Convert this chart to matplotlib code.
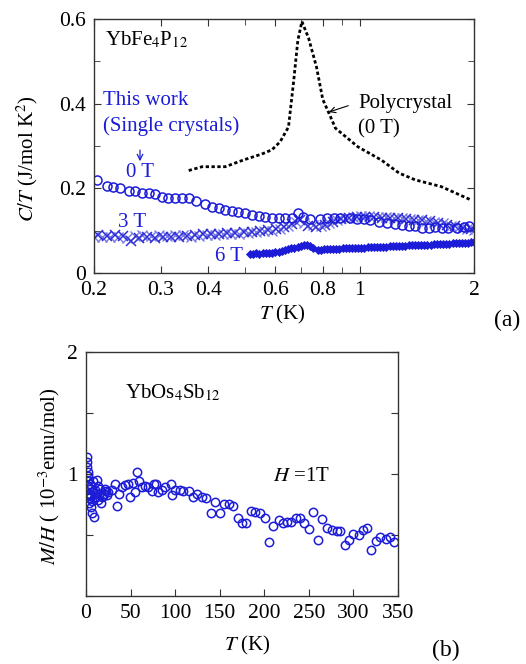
import numpy as np
import matplotlib
matplotlib.use('Agg')
import matplotlib.pyplot as plt
from matplotlib.ticker import FixedLocator, NullFormatter

plt.rcParams['font.family'] = ['Liberation Serif', 'DejaVu Serif']
plt.rcParams['mathtext.fontset'] = 'stix'

###################################################################################################
# (a) YbFe4P12 specific heat C/T vs T
poly_T = [0.355, 0.385, 0.443, 0.495, 0.553, 0.588, 0.618, 0.65, 0.67, 0.688, 0.705,
          0.734, 0.77, 0.80, 0.83, 0.864, 0.99, 1.14, 1.27, 1.40, 1.64, 1.97]
poly_C = [0.242, 0.251, 0.251, 0.267, 0.281, 0.291, 0.310, 0.345, 0.45, 0.55, 0.594,
          0.555, 0.487, 0.41, 0.378, 0.342, 0.298, 0.267, 0.236, 0.22, 0.204, 0.172]

t0_T = [0.204, 0.216, 0.225, 0.234, 0.247, 0.257, 0.267, 0.279, 0.290, 0.302, 0.314,
        0.327, 0.341, 0.355, 0.370, 0.393, 0.409, 0.426, 0.443, 0.461, 0.480, 0.500,
        0.521, 0.542, 0.565, 0.588, 0.612, 0.637, 0.664, 0.687, 0.710, 0.741, 0.787,
        0.821, 0.855, 0.889, 0.945, 0.984, 1.025, 1.067, 1.122, 1.18, 1.24, 1.29,
        1.35, 1.40, 1.46, 1.52, 1.58, 1.65, 1.71, 1.80, 1.88, 1.94]
t0_C = [0.220, 0.206, 0.204, 0.201, 0.194, 0.194, 0.190, 0.188, 0.187, 0.180, 0.178,
        0.176, 0.176, 0.178, 0.170, 0.163, 0.157, 0.153, 0.149, 0.146, 0.145, 0.142,
        0.137, 0.135, 0.133, 0.131, 0.129, 0.129, 0.131, 0.141, 0.133, 0.127, 0.127,
        0.129, 0.129, 0.131, 0.129, 0.127, 0.127, 0.125, 0.121, 0.117, 0.115, 0.113,
        0.112, 0.112, 0.107, 0.107, 0.109, 0.107, 0.107, 0.107, 0.109, 0.111]

t3_T = [0.200, 0.205, 0.210, 0.216, 0.221, 0.227, 0.232, 0.238, 0.244, 0.250, 0.256,
        0.262, 0.268, 0.275, 0.282, 0.289, 0.296, 0.303, 0.311, 0.318, 0.326, 0.334,
        0.343, 0.351, 0.360, 0.369, 0.378, 0.387, 0.397, 0.407, 0.417, 0.427, 0.438,
        0.449, 0.460, 0.471, 0.483, 0.495, 0.507, 0.520, 0.533, 0.546, 0.559, 0.573,
        0.588, 0.602, 0.617, 0.633, 0.648, 0.665, 0.681, 0.698, 0.716, 0.733, 0.752,
        0.770, 0.790, 0.809, 0.830, 0.850, 0.872, 0.893, 0.916, 0.938, 0.962, 0.986,
        1.010, 1.035, 1.061, 1.088, 1.115, 1.143, 1.171, 1.200, 1.230, 1.261, 1.292,
        1.325, 1.358, 1.391, 1.426, 1.462, 1.498, 1.536, 1.574, 1.613, 1.653, 1.695,
        1.737, 1.780, 1.825, 1.870, 1.917, 1.965, 2.000]
t3_C = [0.086, 0.090, 0.084, 0.088, 0.085, 0.089, 0.084, 0.087, 0.082, 0.076, 0.088,
        0.083, 0.090, 0.085, 0.088, 0.083, 0.090, 0.086, 0.088, 0.084, 0.089, 0.086,
        0.090, 0.087, 0.085, 0.089, 0.088, 0.091, 0.089, 0.092, 0.090, 0.093, 0.091,
        0.094, 0.092, 0.095, 0.093, 0.096, 0.094, 0.097, 0.096, 0.099, 0.098, 0.101,
        0.100, 0.104, 0.103, 0.108, 0.112, 0.116, 0.121, 0.126, 0.118, 0.110, 0.113,
        0.108, 0.110, 0.114, 0.118, 0.121, 0.124, 0.127, 0.129, 0.131, 0.133, 0.133,
        0.134, 0.133, 0.134, 0.132, 0.133, 0.131, 0.132, 0.130, 0.131, 0.129, 0.130,
        0.128, 0.128, 0.126, 0.126, 0.124, 0.123, 0.122, 0.120, 0.118, 0.117, 0.114,
        0.112, 0.110, 0.108, 0.106, 0.104, 0.103, 0.101]

t6_T = [0.515, 0.525, 0.535, 0.545, 0.556, 0.567, 0.578, 0.589, 0.600, 0.612, 0.624,
        0.636, 0.648, 0.661, 0.674, 0.687, 0.700, 0.714, 0.728, 0.742, 0.756,
        0.776, 0.790, 0.805, 0.820, 0.836, 0.852, 0.868, 0.885, 0.902, 0.919, 0.937,
        0.955, 0.973, 0.992, 1.011, 1.030, 1.050, 1.070, 1.091, 1.112, 1.133, 1.155,
        1.177, 1.200, 1.223, 1.246, 1.270, 1.295, 1.320, 1.345, 1.371, 1.397, 1.424,
        1.451, 1.479, 1.508, 1.537, 1.566, 1.596, 1.627, 1.658, 1.690, 1.723, 1.756,
        1.790, 1.824, 1.859, 1.895, 1.931, 1.968, 2.000]
t6_C = [0.045, 0.044, 0.046, 0.045, 0.047, 0.046, 0.048, 0.048, 0.050, 0.050, 0.052,
        0.054, 0.056, 0.058, 0.060, 0.062, 0.064, 0.066, 0.065, 0.063, 0.060,
        0.055, 0.055, 0.056, 0.056, 0.057, 0.057, 0.056, 0.057, 0.058, 0.058, 0.059,
        0.059, 0.059, 0.060, 0.060, 0.060, 0.061, 0.061, 0.061, 0.061, 0.062, 0.062,
        0.062, 0.063, 0.063, 0.063, 0.064, 0.064, 0.064, 0.065, 0.065, 0.066, 0.066,
        0.066, 0.067, 0.067, 0.067, 0.068, 0.068, 0.068, 0.069, 0.069, 0.069, 0.070,
        0.070, 0.070, 0.071, 0.071, 0.071, 0.072, 0.072]

a_xticks = [0.2, 0.3, 0.4, 0.6, 0.8, 1, 2]
a_xticklabels = ['0.2', '0.3', '0.4', '0.6', '0.8', '1', '2']
a_xminor = [0.5, 0.7, 0.9]
a_yticks = [0, 0.2, 0.4, 0.6]
a_yticklabels = ['0', '0.2', '0.4', '0.6']

# (b) YbOs4Sb12 M/H vs T
mh_T = [1.5, 1.5, 1.6, 1.7, 1.8, 2.0, 2.6, 2.8, 3.0, 3.5, 3.7, 4.0, 4.5, 5.0, 5.2, 6.0,
        6.4, 7.0, 8.0, 8.0, 9.0, 9.4, 10, 11, 12, 12, 13, 14, 15, 16, 17, 18, 19, 20,
        21, 22, 24, 25, 29, 32, 35, 37, 40, 44, 47.5, 49.4, 53, 55, 57.6, 60, 62.5,
        66, 70, 73.7, 76, 79, 81, 85, 89, 95, 97, 100, 105, 109, 115, 120, 124, 130,
        135, 140, 145, 150, 155, 160, 165, 170, 175, 180, 185, 190, 195, 201, 205, 210,
        216, 221, 225, 230, 235, 240, 245, 250, 255, 260, 265, 270, 276, 281, 285, 290,
        295, 300, 306, 311, 315, 320, 325, 330, 336, 341, 346]
mh_M = [1.14, 1.10, 1.06, 1.02, 0.98, 0.94, 0.90, 0.84, 0.80, 0.88, 0.76, 0.92, 0.82,
        0.84, 0.73, 0.90, 0.68, 0.78, 0.94, 0.86, 0.80, 0.65, 0.87, 0.81, 0.95, 0.84,
        0.79, 0.90, 0.84, 0.88, 0.76, 0.81, 0.82, 0.84, 0.88, 0.86, 0.83, 0.85, 0.87,
        0.92, 0.74, 0.84, 0.895, 0.91, 0.92, 0.81, 0.93, 0.85, 1.02, 0.94, 0.895, 0.90,
        0.895, 0.86, 0.92, 0.92, 0.855, 0.87, 0.895, 0.92, 0.83, 0.87, 0.87, 0.86, 0.86,
        0.81, 0.84, 0.81, 0.80, 0.68, 0.77, 0.68, 0.75, 0.75, 0.74, 0.64, 0.595, 0.60,
        0.70, 0.69, 0.68, 0.64, 0.445, 0.57, 0.62, 0.595, 0.61, 0.61, 0.64, 0.64, 0.60,
        0.55, 0.69, 0.46, 0.63, 0.56, 0.54, 0.53, 0.535, 0.42, 0.46, 0.51, 0.50, 0.54,
        0.555, 0.38, 0.45, 0.485, 0.47, 0.48, 0.44]

b_xticks = [0, 50, 100, 150, 200, 250, 300, 350]
b_yticks = [0, 0.5, 1, 1.5, 2]
b_yticklabels = ['', '', '1', '', '2']

###################################################################################################
blue = '#1c1cd8'
fs_tick = 15.5
fs_txt = 15

fig = plt.figure(figsize=(5.26, 6.64), dpi=100)

ax = fig.add_axes([0.1787, 0.5889, 0.7224, 0.3825])
ax.set_xscale('log')
ax.plot(poly_T, poly_C, color='black', linestyle=(0, (1.2, 0.9)), linewidth=2.0)
ax.plot(t3_T[::2], t3_C[::2], linestyle='none', marker='x', markersize=6.5,
        markeredgewidth=1.0, color='#7a7ae4')
ax.plot(t3_T[1::2], t3_C[1::2], linestyle='none', marker='x', markersize=6.5,
        markeredgewidth=1.1, color='#3030d8')
ax.plot(t0_T, t0_C, linestyle='none', marker='o', markersize=6.5,
        markerfacecolor='none', markeredgecolor=blue, markeredgewidth=1.1)
ax.plot(t6_T, t6_C, linestyle='none', marker='D', markersize=4,
        color=blue, markeredgewidth=0.6)

ax.set_xlim(0.2, 2.0)
ax.set_ylim(0, 0.6)
ax.xaxis.set_major_locator(FixedLocator(a_xticks))
ax.set_xticklabels(a_xticklabels)
ax.xaxis.set_minor_locator(FixedLocator(a_xminor))
ax.xaxis.set_minor_formatter(NullFormatter())
ax.set_yticks(a_yticks)
ax.set_yticklabels(a_yticklabels)
ax.yaxis.set_minor_locator(FixedLocator([0.1, 0.3, 0.5]))
ax.tick_params(which='both', direction='in', top=True, right=True, labelsize=fs_tick,
               color='#333333', pad=6)
ax.tick_params(which='major', length=5)
ax.tick_params(which='minor', length=4)
for s in ax.spines.values():
    s.set_color('#333333')
    s.set_linewidth(1.0)

ax.set_ylabel(r'$C/T$ (J/mol K$^{2}$)', fontsize=fs_txt)
ax.yaxis.set_label_coords(-0.142, 0.45)
ax.set_xlabel(r'$T$ (K)', fontsize=fs_txt)
ax.xaxis.set_label_coords(0.495, -0.12)

ax.text(0.029, 0.917, r'YbFe$_4$P$_{12}$', transform=ax.transAxes, fontsize=fs_txt,
        va='center', ha='left')
ax.text(0.024, 0.681, 'This work', transform=ax.transAxes, fontsize=fs_txt,
        va='center', ha='left', color=blue)
ax.text(0.024, 0.579, '(Single crystals)', transform=ax.transAxes, fontsize=fs_txt,
        va='center', ha='left', color=blue)
ax.annotate('', xy=(0.121, 0.429), xytext=(0.121, 0.495), xycoords='axes fraction',
            arrowprops=dict(arrowstyle='->', color=blue, lw=0.9))
ax.text(0.122, 0.394, '0 T', transform=ax.transAxes, fontsize=fs_txt,
        va='center', ha='center', color=blue)
ax.text(0.101, 0.197, '3 T', transform=ax.transAxes, fontsize=fs_txt,
        va='center', ha='center', color=blue)
ax.text(0.355, 0.063, '6 T', transform=ax.transAxes, fontsize=fs_txt,
        va='center', ha='center', color=blue)
ax.text(0.695, 0.669, 'Polycrystal', transform=ax.transAxes, fontsize=fs_txt,
        va='center', ha='left')
ax.text(0.695, 0.567, '(0 T)', transform=ax.transAxes, fontsize=fs_txt,
        va='center', ha='left')
ax.annotate('', xy=(0.611, 0.630), xytext=(0.676, 0.662), xycoords='axes fraction',
            arrowprops=dict(arrowstyle='->', color='black', lw=0.8))
fig.text(0.964, 0.518, '(a)', fontsize=17, ha='center', va='center')

###################################################################################################
bx = fig.add_axes([0.1635, 0.1024, 0.5932, 0.3675])
bx.plot(mh_T, mh_M, linestyle='none', marker='o', markersize=6,
        markerfacecolor='none', markeredgecolor=blue, markeredgewidth=1.1)
bx.set_xlim(0, 350)
bx.set_ylim(0, 2)
bx.set_xticks(b_xticks)
bx.set_yticks(b_yticks)
bx.set_yticklabels(b_yticklabels)
bx.tick_params(which='both', direction='in', right=True, top=False, labelsize=fs_tick,
               color='#333333', length=5, pad=6)
for s in bx.spines.values():
    s.set_color('#333333')
    s.set_linewidth(1.0)

bx.set_ylabel(r'$M/H$ ( 10$^{-3}$emu/mol)', fontsize=fs_txt)
bx.yaxis.set_label_coords(-0.077, 0.49)
bx.set_xlabel(r'$T$ (K)', fontsize=fs_txt)
bx.xaxis.set_label_coords(0.516, -0.155)

bx.text(0.125, 0.832, r'YbOs$_4$Sb$_{12}$', transform=bx.transAxes, fontsize=fs_txt,
        va='center', ha='left')
bx.text(0.599, 0.488, r'$H$ =1T', transform=bx.transAxes, fontsize=fs_txt,
        va='center', ha='left')
fig.text(0.848, 0.021, '(b)', fontsize=17, ha='center', va='center')

plt.savefig('out.png', dpi=100)
